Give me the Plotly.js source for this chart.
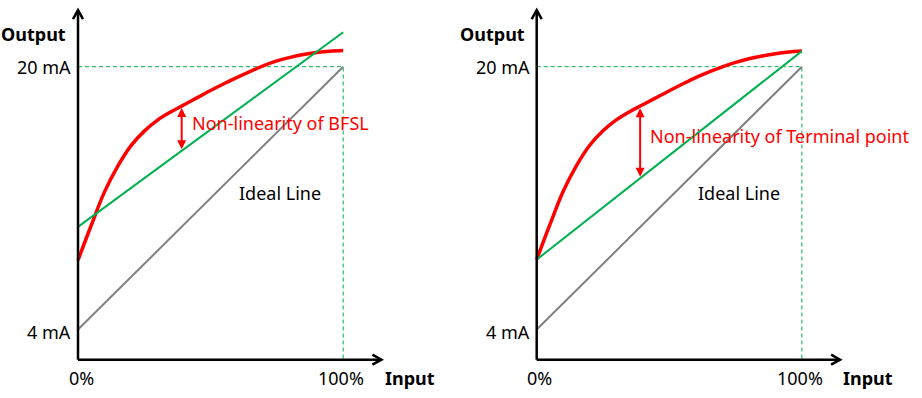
<!DOCTYPE html>
<html>
<head>
<meta charset="utf-8">
<script src="https://cdn.plot.ly/plotly-3.0.1.min.js"></script>
<style>html,body{margin:0;padding:0;background:#fff;}#chart{width:922px;height:398px;}</style>
</head>
<body>
<div id="chart"></div>
<script>
// ---- data ----
const xTickVals = [0, 100];
const xTickText = ['0%', '100%'];
const yTickVals = [4, 20];
const yTickText = ['4 mA', '20 mA'];
const idealX = [0, 100];
const idealY = [4, 20];
// left panel (BFSL)
const bfslX = [0, 100];
const bfslY = [10.25, 22.1];
const leftCurveX = [0, 5, 10, 15, 20, 25, 30, 35, 40, 45, 50, 55, 60, 65, 70, 75, 80, 85, 90, 95, 100];
const leftCurveY = [8.22, 10.35, 12.38, 13.95, 15.2, 16.08, 16.75, 17.25, 17.68, 18.12, 18.55, 18.96, 19.35, 19.72, 20.06, 20.35, 20.57, 20.74, 20.86, 20.94, 20.98];
// right panel (terminal point)
const termX = [0, 100];
const termY = [8.26, 20.95];
const rightCurveX = [0, 5, 10, 15, 20, 25, 30, 35, 40, 45, 50, 55, 60, 65, 70, 75, 80, 85, 90, 95, 100];
const rightCurveY = [8.26, 10.4, 12.42, 13.98, 15.22, 16.1, 16.76, 17.26, 17.68, 18.11, 18.54, 18.95, 19.34, 19.68, 19.99, 20.26, 20.48, 20.65, 20.79, 20.89, 20.95];
// non-linearity arrow positions (input %)
const nlArrowX = [39.1, 39.0];
const nlLabels = ['Non-linearity of BFSL', 'Non-linearity of Terminal point'];
const idealLabel = 'Ideal Line';
const axisTitles = ['Output', 'Input'];

// ---- geometry ----
const W = 922, H = 398;
const pxPerPct = 2.652, pxPerMa = 16.43, y20px = 66.7;
const originPx = [78, 536.7];
const axisBottomMa = 2.17, axisTopMa = 23.45, axisRightPct = 114.4;

function interp(xs, ys, x) {
  for (let i = 0; i < xs.length - 1; i++) {
    if (x >= xs[i] && x <= xs[i + 1]) {
      const t = (x - xs[i]) / (xs[i + 1] - xs[i]);
      return ys[i] + t * (ys[i + 1] - ys[i]);
    }
  }
  return ys[ys.length - 1];
}

const domains = [[0, 0.5], [0.5, 1]];
const yRange = [20 - (H - y20px) / pxPerMa, 20 + y20px / pxPerMa];

const RED = '#FF0000', GREEN = '#00B050', GRAY = '#808080';
const FONT = 'Noto Sans';
const FS = 18;

const traces = [];
const shapes = [];
const annotations = [];
const layout = {
  width: W, height: H,
  margin: {l: 0, r: 0, t: 0, b: 0},
  paper_bgcolor: '#fff', plot_bgcolor: '#fff',
  showlegend: false,
  shapes: shapes, annotations: annotations
};

const panels = [
  {lineX: bfslX, lineY: bfslY, curveX: leftCurveX, curveY: leftCurveY, nlX: nlArrowX[0], label: nlLabels[0], labelY: 16.57},
  {lineX: termX, lineY: termY, curveX: rightCurveX, curveY: rightCurveY, nlX: nlArrowX[1], label: nlLabels[1], labelY: 15.78}
];

panels.forEach((p, i) => {
  const xa = i === 0 ? 'xaxis' : 'xaxis2';
  const ya = i === 0 ? 'yaxis' : 'yaxis2';
  const xr = i === 0 ? 'x' : 'x2';
  const yr = i === 0 ? 'y' : 'y2';
  const dpx = [domains[i][0] * W, domains[i][1] * W];
  layout[xa] = {domain: domains[i], range: [(dpx[0] - originPx[i]) / pxPerPct, (dpx[1] - originPx[i]) / pxPerPct],
    visible: false, fixedrange: true, anchor: yr};
  layout[ya] = {domain: [0, 1], range: yRange, visible: false, fixedrange: true, anchor: xr};

  // guide dashed lines
  traces.push({x: [xTickVals[0], xTickVals[1], xTickVals[1]], y: [yTickVals[1], yTickVals[1], axisBottomMa],
    xaxis: xr, yaxis: yr, mode: 'lines', line: {color: GREEN, width: 1, dash: '4px,3px'}, hoverinfo: 'skip'});
  // ideal line
  traces.push({x: idealX, y: idealY, xaxis: xr, yaxis: yr, mode: 'lines', line: {color: GRAY, width: 2}, hoverinfo: 'skip'});
  // red curve
  traces.push({x: p.curveX, y: p.curveY, xaxis: xr, yaxis: yr, mode: 'lines',
    line: {color: RED, width: 3.5, shape: 'spline', smoothing: 1}, hoverinfo: 'skip'});
  // green reference line
  traces.push({x: p.lineX, y: p.lineY, xaxis: xr, yaxis: yr, mode: 'lines', line: {color: GREEN, width: 2}, hoverinfo: 'skip'});

  // axes with arrows
  shapes.push({type: 'line', xref: xr, yref: yr, x0: 0, x1: 0, y0: axisBottomMa, y1: axisTopMa, line: {color: '#000', width: 2.5}});
  shapes.push({type: 'line', xref: xr, yref: yr, x0: 0, x1: axisRightPct, y0: axisBottomMa, y1: axisBottomMa, line: {color: '#000', width: 2.5}});
  shapes.push({type: 'path', xref: xr, yref: yr, xsizemode: 'pixel', ysizemode: 'pixel', xanchor: 0, yanchor: axisTopMa,
    path: 'M -5 -9 L 0 0 L 5 -9', line: {color: '#000', width: 2.5}});
  shapes.push({type: 'path', xref: xr, yref: yr, xsizemode: 'pixel', ysizemode: 'pixel', xanchor: axisRightPct, yanchor: axisBottomMa,
    path: 'M -9 5 L 0 0 L -9 -5', line: {color: '#000', width: 2.5}});

  // non-linearity arrow
  const top = interp(p.curveX, p.curveY, p.nlX) - 0.12;
  const bot = interp(p.lineX, p.lineY, p.nlX);
  annotations.push({xref: xr, yref: yr, axref: xr, ayref: yr, x: p.nlX, y: top, ax: p.nlX, ay: bot, text: '',
    showarrow: true, arrowside: 'end+start', arrowhead: 2, arrowsize: 0.9, arrowwidth: 2, arrowcolor: RED});
  annotations.push({xref: xr, yref: yr, x: p.nlX + 3.1, y: p.labelY, text: p.label, showarrow: false,
    xanchor: 'left', yanchor: 'middle', font: {family: FONT, size: FS, color: RED}});

  annotations.push({xref: xr, yref: yr, x: 60, y: 12.31, text: idealLabel, showarrow: false,
    xanchor: 'left', yanchor: 'middle', font: {family: FONT, size: FS, color: '#000'}});

  // tick labels
  yTickVals.forEach((v, k) => annotations.push({xref: xr, yref: yr, x: 0, y: v, text: yTickText[k], showarrow: false,
    xanchor: 'right', yanchor: 'middle', xshift: -5, yshift: k === 0 ? -2 : 0, font: {family: FONT, size: FS, color: '#000'}}));
  xTickVals.forEach((v, k) => annotations.push({xref: xr, yref: yr, x: v, y: 1.05, text: xTickText[k], showarrow: false,
    xanchor: 'center', yanchor: 'middle', xshift: k === 0 ? 3 : -2, font: {family: FONT, size: FS, color: '#000'}}));

  // axis titles
  annotations.push({xref: xr, yref: yr, x: -3.8, y: 22.02, text: '<b>' + axisTitles[0] + '</b>', showarrow: false,
    xanchor: 'right', yanchor: 'middle', font: {family: FONT, size: FS, color: '#000'}});
  annotations.push({xref: xr, yref: yr, x: 114.9, y: 1.05, text: '<b>' + axisTitles[1] + '</b>', showarrow: false,
    xanchor: 'left', yanchor: 'middle', font: {family: FONT, size: FS, color: '#000'}});
});

Plotly.newPlot('chart', traces, layout, {staticPlot: true, displayModeBar: false});
</script>
</body>
</html>
